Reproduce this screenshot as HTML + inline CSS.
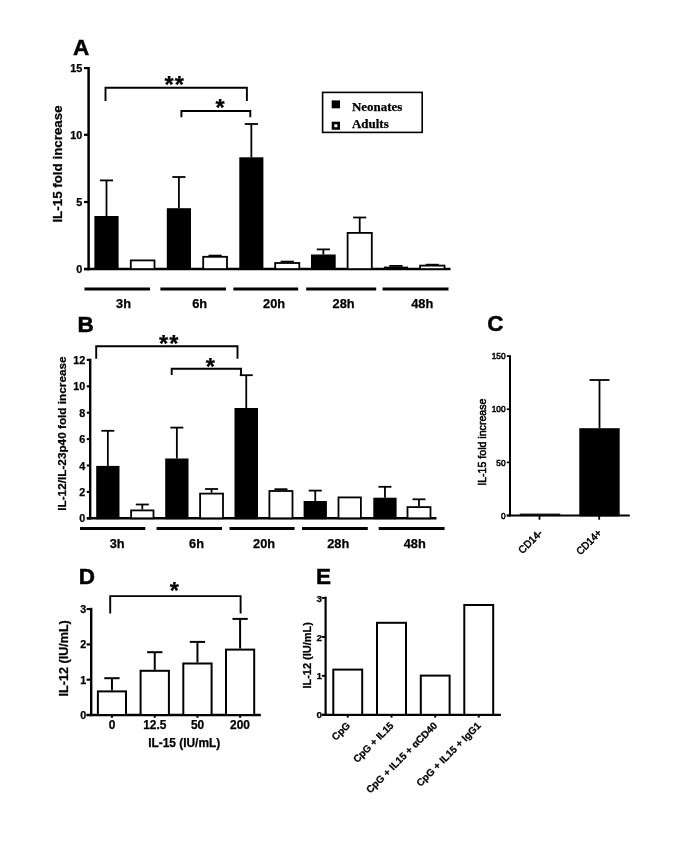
<!DOCTYPE html>
<html lang="en"><head><meta charset="utf-8"><title>Figure</title>
<style>
html,body{margin:0;padding:0;background:#fff;}
body{width:685px;height:848px;overflow:hidden;}
svg{display:block;}
text{fill:#000;}
</style></head><body>
<svg width="685" height="848" viewBox="0 0 685 848">
<rect x="0" y="0" width="685" height="848" fill="#fff"/>
<text x="73.00" y="55.00" font-family='"Liberation Sans", Arial, sans-serif' font-size="22.5" font-weight="bold" text-anchor="start" stroke="#000" stroke-width="0.5">A</text>
<line x1="88.60" y1="67.00" x2="88.60" y2="270.35" stroke="#000" stroke-width="2.5" />
<line x1="84.00" y1="269.10" x2="450.50" y2="269.10" stroke="#000" stroke-width="2.5" />
<line x1="84.00" y1="68.10" x2="88.60" y2="68.10" stroke="#000" stroke-width="2.2" />
<text x="82.40" y="72.10" font-family='"Liberation Sans", Arial, sans-serif' font-size="10.9" font-weight="bold" text-anchor="end"  stroke="#000" stroke-width="0.25">15</text>
<line x1="84.00" y1="134.80" x2="88.60" y2="134.80" stroke="#000" stroke-width="2.2" />
<text x="82.40" y="138.80" font-family='"Liberation Sans", Arial, sans-serif' font-size="10.9" font-weight="bold" text-anchor="end"  stroke="#000" stroke-width="0.25">10</text>
<line x1="84.00" y1="202.00" x2="88.60" y2="202.00" stroke="#000" stroke-width="2.2" />
<text x="82.40" y="206.00" font-family='"Liberation Sans", Arial, sans-serif' font-size="10.9" font-weight="bold" text-anchor="end"  stroke="#000" stroke-width="0.25">5</text>
<line x1="84.00" y1="269.10" x2="88.60" y2="269.10" stroke="#000" stroke-width="2.2" />
<text x="82.40" y="273.10" font-family='"Liberation Sans", Arial, sans-serif' font-size="10.9" font-weight="bold" text-anchor="end"  stroke="#000" stroke-width="0.25">0</text>
<text x="62.40" y="164.00" font-family='"Liberation Sans", Arial, sans-serif' font-size="13.35" font-weight="bold" text-anchor="middle" transform="rotate(-90 62.40 164.00)"  stroke="#000" stroke-width="0.25">IL-15 fold increase</text>
<line x1="106.50" y1="216.00" x2="106.50" y2="180.40" stroke="#000" stroke-width="1.8" />
<line x1="99.90" y1="180.40" x2="113.10" y2="180.40" stroke="#000" stroke-width="1.8" />
<rect x="95.30" y="216.90" width="22.40" height="52.20" fill="#000" stroke="#000" stroke-width="1.8"/>
<rect x="130.80" y="260.40" width="23.70" height="8.70" fill="#fff" stroke="#000" stroke-width="1.8"/>
<line x1="178.90" y1="208.20" x2="178.90" y2="177.00" stroke="#000" stroke-width="1.8" />
<line x1="172.30" y1="177.00" x2="185.50" y2="177.00" stroke="#000" stroke-width="1.8" />
<rect x="167.70" y="209.10" width="22.40" height="60.00" fill="#000" stroke="#000" stroke-width="1.8"/>
<line x1="215.10" y1="255.90" x2="215.10" y2="255.60" stroke="#000" stroke-width="1.8" />
<line x1="208.50" y1="255.60" x2="221.70" y2="255.60" stroke="#000" stroke-width="1.8" />
<rect x="203.20" y="256.80" width="23.80" height="12.30" fill="#fff" stroke="#000" stroke-width="1.8"/>
<line x1="251.35" y1="157.30" x2="251.35" y2="124.00" stroke="#000" stroke-width="1.8" />
<line x1="244.75" y1="124.00" x2="257.95" y2="124.00" stroke="#000" stroke-width="1.8" />
<rect x="240.20" y="158.20" width="22.30" height="110.90" fill="#000" stroke="#000" stroke-width="1.8"/>
<line x1="287.25" y1="262.10" x2="287.25" y2="261.60" stroke="#000" stroke-width="1.8" />
<line x1="280.65" y1="261.60" x2="293.85" y2="261.60" stroke="#000" stroke-width="1.8" />
<rect x="275.20" y="263.00" width="24.10" height="6.10" fill="#fff" stroke="#000" stroke-width="1.8"/>
<line x1="323.35" y1="254.50" x2="323.35" y2="249.40" stroke="#000" stroke-width="1.8" />
<line x1="316.75" y1="249.40" x2="329.95" y2="249.40" stroke="#000" stroke-width="1.8" />
<rect x="311.90" y="255.40" width="22.90" height="13.70" fill="#000" stroke="#000" stroke-width="1.8"/>
<line x1="359.70" y1="232.00" x2="359.70" y2="217.50" stroke="#000" stroke-width="1.8" />
<line x1="353.10" y1="217.50" x2="366.30" y2="217.50" stroke="#000" stroke-width="1.8" />
<rect x="347.60" y="232.90" width="24.20" height="36.20" fill="#fff" stroke="#000" stroke-width="1.8"/>
<line x1="395.95" y1="266.60" x2="395.95" y2="265.90" stroke="#000" stroke-width="1.8" />
<line x1="389.35" y1="265.90" x2="402.55" y2="265.90" stroke="#000" stroke-width="1.8" />
<rect x="384.80" y="267.50" width="22.30" height="1.60" fill="#000" stroke="#000" stroke-width="1.8"/>
<line x1="432.30" y1="264.70" x2="432.30" y2="264.70" stroke="#000" stroke-width="1.8" />
<line x1="425.70" y1="264.70" x2="438.90" y2="264.70" stroke="#000" stroke-width="1.8" />
<rect x="420.10" y="265.60" width="24.40" height="3.50" fill="#fff" stroke="#000" stroke-width="1.8"/>
<polyline points="105.50,100.90 105.50,87.70 246.90,87.70 246.90,100.90" fill="none" stroke="#000" stroke-width="1.9"/>
<polyline points="181.40,117.20 181.40,111.00 250.30,111.00 250.30,117.20" fill="none" stroke="#000" stroke-width="1.9"/>
<text x="174.80" y="93.30" font-family='"Liberation Sans", Arial, sans-serif' font-size="23.5" font-weight="bold" text-anchor="middle" letter-spacing="1.1" stroke="#000" stroke-width="0.25">**</text>
<text x="220.10" y="115.70" font-family='"Liberation Sans", Arial, sans-serif' font-size="23.5" font-weight="bold" text-anchor="middle"  stroke="#000" stroke-width="0.25">*</text>
<line x1="84.50" y1="288.90" x2="150.00" y2="288.90" stroke="#000" stroke-width="3.0" />
<line x1="160.40" y1="288.90" x2="226.00" y2="288.90" stroke="#000" stroke-width="3.0" />
<line x1="233.40" y1="288.90" x2="298.20" y2="288.90" stroke="#000" stroke-width="3.0" />
<line x1="306.20" y1="288.90" x2="376.20" y2="288.90" stroke="#000" stroke-width="3.0" />
<line x1="382.60" y1="288.90" x2="448.50" y2="288.90" stroke="#000" stroke-width="3.0" />
<text x="123.50" y="308.30" font-family='"Liberation Sans", Arial, sans-serif' font-size="12.8" font-weight="bold" text-anchor="middle"  stroke="#000" stroke-width="0.25">3h</text>
<text x="199.60" y="308.30" font-family='"Liberation Sans", Arial, sans-serif' font-size="12.8" font-weight="bold" text-anchor="middle"  stroke="#000" stroke-width="0.25">6h</text>
<text x="274.10" y="308.30" font-family='"Liberation Sans", Arial, sans-serif' font-size="12.8" font-weight="bold" text-anchor="middle"  stroke="#000" stroke-width="0.25">20h</text>
<text x="343.60" y="308.30" font-family='"Liberation Sans", Arial, sans-serif' font-size="12.8" font-weight="bold" text-anchor="middle"  stroke="#000" stroke-width="0.25">28h</text>
<text x="422.20" y="308.30" font-family='"Liberation Sans", Arial, sans-serif' font-size="12.8" font-weight="bold" text-anchor="middle"  stroke="#000" stroke-width="0.25">48h</text>
<rect x="322.6" y="92.4" width="99.6" height="40" fill="#fff" stroke="#000" stroke-width="1.6"/>
<rect x="331.7" y="100.4" width="8.3" height="7.9" fill="#000"/>
<rect x="333.0" y="123.0" width="5.7" height="5.5" fill="#fff" stroke="#000" stroke-width="2.6"/>
<text x="352.00" y="110.80" font-family='"Liberation Serif", "Times New Roman", serif' font-size="12.95" font-weight="bold" text-anchor="start"  stroke="#000" stroke-width="0.25">Neonates</text>
<text x="352.00" y="127.60" font-family='"Liberation Serif", "Times New Roman", serif' font-size="12.95" font-weight="bold" text-anchor="start"  stroke="#000" stroke-width="0.25">Adults</text>
<text x="77.60" y="332.00" font-family='"Liberation Sans", Arial, sans-serif' font-size="22.5" font-weight="bold" text-anchor="start" stroke="#000" stroke-width="0.5">B</text>
<line x1="90.20" y1="358.70" x2="90.20" y2="519.50" stroke="#000" stroke-width="2.4" />
<line x1="86.80" y1="518.30" x2="436.50" y2="518.30" stroke="#000" stroke-width="2.4" />
<line x1="86.80" y1="518.30" x2="90.20" y2="518.30" stroke="#000" stroke-width="2.1" />
<text x="85.30" y="522.30" font-family='"Liberation Sans", Arial, sans-serif' font-size="10.8" font-weight="bold" text-anchor="end"  stroke="#000" stroke-width="0.25">0</text>
<line x1="86.80" y1="491.90" x2="90.20" y2="491.90" stroke="#000" stroke-width="2.1" />
<text x="85.30" y="495.90" font-family='"Liberation Sans", Arial, sans-serif' font-size="10.8" font-weight="bold" text-anchor="end"  stroke="#000" stroke-width="0.25">2</text>
<line x1="86.80" y1="465.50" x2="90.20" y2="465.50" stroke="#000" stroke-width="2.1" />
<text x="85.30" y="469.50" font-family='"Liberation Sans", Arial, sans-serif' font-size="10.8" font-weight="bold" text-anchor="end"  stroke="#000" stroke-width="0.25">4</text>
<line x1="86.80" y1="439.10" x2="90.20" y2="439.10" stroke="#000" stroke-width="2.1" />
<text x="85.30" y="443.10" font-family='"Liberation Sans", Arial, sans-serif' font-size="10.8" font-weight="bold" text-anchor="end"  stroke="#000" stroke-width="0.25">6</text>
<line x1="86.80" y1="412.70" x2="90.20" y2="412.70" stroke="#000" stroke-width="2.1" />
<text x="85.30" y="416.70" font-family='"Liberation Sans", Arial, sans-serif' font-size="10.8" font-weight="bold" text-anchor="end"  stroke="#000" stroke-width="0.25">8</text>
<line x1="86.80" y1="386.30" x2="90.20" y2="386.30" stroke="#000" stroke-width="2.1" />
<text x="85.30" y="390.30" font-family='"Liberation Sans", Arial, sans-serif' font-size="10.8" font-weight="bold" text-anchor="end"  stroke="#000" stroke-width="0.25">10</text>
<line x1="86.80" y1="359.90" x2="90.20" y2="359.90" stroke="#000" stroke-width="2.1" />
<text x="85.30" y="363.90" font-family='"Liberation Sans", Arial, sans-serif' font-size="10.8" font-weight="bold" text-anchor="end"  stroke="#000" stroke-width="0.25">12</text>
<text x="66.10" y="433.60" font-family='"Liberation Sans", Arial, sans-serif' font-size="11.78" font-weight="bold" text-anchor="middle" transform="rotate(-90 66.10 433.60)"  stroke="#000" stroke-width="0.25">IL-12/IL-23p40 fold increase</text>
<line x1="107.85" y1="465.90" x2="107.85" y2="430.80" stroke="#000" stroke-width="1.8" />
<line x1="101.35" y1="430.80" x2="114.35" y2="430.80" stroke="#000" stroke-width="1.8" />
<rect x="97.10" y="466.80" width="21.50" height="51.50" fill="#000" stroke="#000" stroke-width="1.8"/>
<line x1="142.30" y1="509.50" x2="142.30" y2="504.50" stroke="#000" stroke-width="1.8" />
<line x1="135.80" y1="504.50" x2="148.80" y2="504.50" stroke="#000" stroke-width="1.8" />
<rect x="131.10" y="510.40" width="22.40" height="7.90" fill="#fff" stroke="#000" stroke-width="1.8"/>
<line x1="176.85" y1="458.50" x2="176.85" y2="427.60" stroke="#000" stroke-width="1.8" />
<line x1="170.35" y1="427.60" x2="183.35" y2="427.60" stroke="#000" stroke-width="1.8" />
<rect x="166.10" y="459.40" width="21.50" height="58.90" fill="#000" stroke="#000" stroke-width="1.8"/>
<line x1="211.55" y1="492.70" x2="211.55" y2="489.00" stroke="#000" stroke-width="1.8" />
<line x1="205.05" y1="489.00" x2="218.05" y2="489.00" stroke="#000" stroke-width="1.8" />
<rect x="200.10" y="493.60" width="22.90" height="24.70" fill="#fff" stroke="#000" stroke-width="1.8"/>
<line x1="246.25" y1="408.00" x2="246.25" y2="375.20" stroke="#000" stroke-width="1.8" />
<line x1="239.75" y1="375.20" x2="252.75" y2="375.20" stroke="#000" stroke-width="1.8" />
<rect x="235.40" y="408.90" width="21.70" height="109.40" fill="#000" stroke="#000" stroke-width="1.8"/>
<line x1="280.95" y1="490.10" x2="280.95" y2="489.20" stroke="#000" stroke-width="1.8" />
<line x1="274.45" y1="489.20" x2="287.45" y2="489.20" stroke="#000" stroke-width="1.8" />
<rect x="269.40" y="491.00" width="23.10" height="27.30" fill="#fff" stroke="#000" stroke-width="1.8"/>
<line x1="315.25" y1="501.00" x2="315.25" y2="490.60" stroke="#000" stroke-width="1.8" />
<line x1="308.75" y1="490.60" x2="321.75" y2="490.60" stroke="#000" stroke-width="1.8" />
<rect x="304.50" y="501.90" width="21.50" height="16.40" fill="#000" stroke="#000" stroke-width="1.8"/>
<rect x="338.50" y="497.40" width="22.40" height="20.90" fill="#fff" stroke="#000" stroke-width="1.8"/>
<line x1="384.95" y1="497.70" x2="384.95" y2="486.80" stroke="#000" stroke-width="1.8" />
<line x1="378.45" y1="486.80" x2="391.45" y2="486.80" stroke="#000" stroke-width="1.8" />
<rect x="374.20" y="498.60" width="21.50" height="19.70" fill="#000" stroke="#000" stroke-width="1.8"/>
<line x1="419.00" y1="506.20" x2="419.00" y2="499.30" stroke="#000" stroke-width="1.8" />
<line x1="412.50" y1="499.30" x2="425.50" y2="499.30" stroke="#000" stroke-width="1.8" />
<rect x="407.50" y="507.10" width="23.00" height="11.20" fill="#fff" stroke="#000" stroke-width="1.8"/>
<polyline points="96.20,358.80 96.20,346.30 237.50,346.30 237.50,358.80" fill="none" stroke="#000" stroke-width="1.9"/>
<polyline points="171.70,374.90 171.70,368.80 241.00,368.80 241.00,374.90" fill="none" stroke="#000" stroke-width="1.9"/>
<text x="169.30" y="351.80" font-family='"Liberation Sans", Arial, sans-serif' font-size="23.5" font-weight="bold" text-anchor="middle" letter-spacing="1.1" stroke="#000" stroke-width="0.25">**</text>
<text x="210.30" y="374.70" font-family='"Liberation Sans", Arial, sans-serif' font-size="23.5" font-weight="bold" text-anchor="middle"  stroke="#000" stroke-width="0.25">*</text>
<line x1="80.00" y1="528.50" x2="145.30" y2="528.50" stroke="#000" stroke-width="3.0" />
<line x1="156.60" y1="528.50" x2="222.00" y2="528.50" stroke="#000" stroke-width="3.0" />
<line x1="229.50" y1="528.50" x2="294.60" y2="528.50" stroke="#000" stroke-width="3.0" />
<line x1="302.00" y1="528.50" x2="367.80" y2="528.50" stroke="#000" stroke-width="3.0" />
<line x1="378.70" y1="528.50" x2="444.60" y2="528.50" stroke="#000" stroke-width="3.0" />
<text x="117.20" y="548.00" font-family='"Liberation Sans", Arial, sans-serif' font-size="12.8" font-weight="bold" text-anchor="middle"  stroke="#000" stroke-width="0.25">3h</text>
<text x="196.50" y="548.00" font-family='"Liberation Sans", Arial, sans-serif' font-size="12.8" font-weight="bold" text-anchor="middle"  stroke="#000" stroke-width="0.25">6h</text>
<text x="264.10" y="548.00" font-family='"Liberation Sans", Arial, sans-serif' font-size="12.8" font-weight="bold" text-anchor="middle"  stroke="#000" stroke-width="0.25">20h</text>
<text x="338.20" y="548.00" font-family='"Liberation Sans", Arial, sans-serif' font-size="12.8" font-weight="bold" text-anchor="middle"  stroke="#000" stroke-width="0.25">28h</text>
<text x="414.70" y="548.00" font-family='"Liberation Sans", Arial, sans-serif' font-size="12.8" font-weight="bold" text-anchor="middle"  stroke="#000" stroke-width="0.25">48h</text>
<text x="487.30" y="331.20" font-family='"Liberation Sans", Arial, sans-serif' font-size="22.5" font-weight="bold" text-anchor="start" stroke="#000" stroke-width="0.5">C</text>
<line x1="510.00" y1="355.20" x2="510.00" y2="516.50" stroke="#000" stroke-width="2.0" />
<line x1="506.80" y1="515.50" x2="629.80" y2="515.50" stroke="#000" stroke-width="2.0" />
<line x1="506.80" y1="515.50" x2="510.00" y2="515.50" stroke="#000" stroke-width="1.7" />
<text x="505.60" y="518.70" font-family='"Liberation Sans", Arial, sans-serif' font-size="9.6" font-weight="normal" text-anchor="end" stroke="#000" stroke-width="0.55" textLength="4.62" lengthAdjust="spacingAndGlyphs">0</text>
<line x1="506.80" y1="462.37" x2="510.00" y2="462.37" stroke="#000" stroke-width="1.7" />
<text x="505.60" y="465.56" font-family='"Liberation Sans", Arial, sans-serif' font-size="9.6" font-weight="normal" text-anchor="end" stroke="#000" stroke-width="0.55" textLength="9.24" lengthAdjust="spacingAndGlyphs">50</text>
<line x1="506.80" y1="409.23" x2="510.00" y2="409.23" stroke="#000" stroke-width="1.7" />
<text x="505.60" y="412.43" font-family='"Liberation Sans", Arial, sans-serif' font-size="9.6" font-weight="normal" text-anchor="end" stroke="#000" stroke-width="0.55" textLength="13.86" lengthAdjust="spacingAndGlyphs">100</text>
<line x1="506.80" y1="356.10" x2="510.00" y2="356.10" stroke="#000" stroke-width="1.7" />
<text x="505.60" y="359.30" font-family='"Liberation Sans", Arial, sans-serif' font-size="9.6" font-weight="normal" text-anchor="end" stroke="#000" stroke-width="0.55" textLength="13.86" lengthAdjust="spacingAndGlyphs">150</text>
<text x="486.00" y="442.20" font-family='"Liberation Sans", Arial, sans-serif' font-size="10.6" font-weight="normal" text-anchor="middle" transform="rotate(-90 486.00 442.20)" stroke="#000" stroke-width="0.55">IL-15 fold increase</text>
<rect x="520.40" y="514.20" width="39.20" height="1.30" fill="#fff" stroke="#000" stroke-width="1.2"/>
<line x1="599.50" y1="428.20" x2="599.50" y2="380.00" stroke="#000" stroke-width="1.8" />
<line x1="589.50" y1="380.00" x2="609.50" y2="380.00" stroke="#000" stroke-width="1.8" />
<rect x="580.20" y="429.10" width="38.60" height="86.40" fill="#000" stroke="#000" stroke-width="1.8"/>
<line x1="539.50" y1="515.50" x2="539.50" y2="519.70" stroke="#000" stroke-width="1.8" />
<line x1="599.20" y1="515.50" x2="599.20" y2="519.70" stroke="#000" stroke-width="1.8" />
<text x="543.00" y="533.80" font-family='"Liberation Sans", Arial, sans-serif' font-size="10.4" font-weight="normal" text-anchor="end" transform="rotate(-45 543.00 533.80)" stroke="#000" stroke-width="0.55" textLength="28.8" lengthAdjust="spacingAndGlyphs">CD14-</text>
<text x="602.40" y="533.60" font-family='"Liberation Sans", Arial, sans-serif' font-size="10.4" font-weight="normal" text-anchor="end" transform="rotate(-45 602.40 533.60)" stroke="#000" stroke-width="0.55" textLength="31" lengthAdjust="spacingAndGlyphs">CD14+</text>
<text x="78.80" y="584.00" font-family='"Liberation Sans", Arial, sans-serif' font-size="22.5" font-weight="bold" text-anchor="start" stroke="#000" stroke-width="0.5">D</text>
<line x1="91.20" y1="607.80" x2="91.20" y2="716.20" stroke="#000" stroke-width="2.4" />
<line x1="86.60" y1="715.00" x2="260.80" y2="715.00" stroke="#000" stroke-width="2.4" />
<line x1="86.60" y1="715.00" x2="91.20" y2="715.00" stroke="#000" stroke-width="2.1" />
<text x="86.30" y="718.90" font-family='"Liberation Sans", Arial, sans-serif' font-size="10.8" font-weight="bold" text-anchor="end"  stroke="#000" stroke-width="0.25">0</text>
<line x1="86.60" y1="679.70" x2="91.20" y2="679.70" stroke="#000" stroke-width="2.1" />
<text x="86.30" y="683.60" font-family='"Liberation Sans", Arial, sans-serif' font-size="10.8" font-weight="bold" text-anchor="end"  stroke="#000" stroke-width="0.25">1</text>
<line x1="86.60" y1="644.40" x2="91.20" y2="644.40" stroke="#000" stroke-width="2.1" />
<text x="86.30" y="648.30" font-family='"Liberation Sans", Arial, sans-serif' font-size="10.8" font-weight="bold" text-anchor="end"  stroke="#000" stroke-width="0.25">2</text>
<line x1="86.60" y1="609.10" x2="91.20" y2="609.10" stroke="#000" stroke-width="2.1" />
<text x="86.30" y="613.00" font-family='"Liberation Sans", Arial, sans-serif' font-size="10.8" font-weight="bold" text-anchor="end"  stroke="#000" stroke-width="0.25">3</text>
<text x="67.60" y="658.30" font-family='"Liberation Sans", Arial, sans-serif' font-size="12.6" font-weight="bold" text-anchor="middle" transform="rotate(-90 67.60 658.30)"  stroke="#000" stroke-width="0.25">IL-12 (IU/mL)</text>
<line x1="111.95" y1="715.00" x2="111.95" y2="717.80" stroke="#000" stroke-width="2.0" />
<line x1="111.95" y1="690.40" x2="111.95" y2="678.20" stroke="#000" stroke-width="2.0" />
<line x1="104.30" y1="678.20" x2="119.60" y2="678.20" stroke="#000" stroke-width="2.0" />
<rect x="97.90" y="691.40" width="28.10" height="23.60" fill="#fff" stroke="#000" stroke-width="2.0"/>
<line x1="154.75" y1="715.00" x2="154.75" y2="717.80" stroke="#000" stroke-width="2.0" />
<line x1="154.75" y1="669.80" x2="154.75" y2="652.20" stroke="#000" stroke-width="2.0" />
<line x1="147.10" y1="652.20" x2="162.40" y2="652.20" stroke="#000" stroke-width="2.0" />
<rect x="140.60" y="670.80" width="28.30" height="44.20" fill="#fff" stroke="#000" stroke-width="2.0"/>
<line x1="197.45" y1="715.00" x2="197.45" y2="717.80" stroke="#000" stroke-width="2.0" />
<line x1="197.45" y1="662.50" x2="197.45" y2="641.90" stroke="#000" stroke-width="2.0" />
<line x1="189.80" y1="641.90" x2="205.10" y2="641.90" stroke="#000" stroke-width="2.0" />
<rect x="183.30" y="663.50" width="28.30" height="51.50" fill="#fff" stroke="#000" stroke-width="2.0"/>
<line x1="240.10" y1="715.00" x2="240.10" y2="717.80" stroke="#000" stroke-width="2.0" />
<line x1="240.10" y1="648.60" x2="240.10" y2="618.90" stroke="#000" stroke-width="2.0" />
<line x1="232.45" y1="618.90" x2="247.75" y2="618.90" stroke="#000" stroke-width="2.0" />
<rect x="226.00" y="649.60" width="28.20" height="65.40" fill="#fff" stroke="#000" stroke-width="2.0"/>
<polyline points="110.20,613.60 110.20,596.10 240.60,596.10 240.60,613.60" fill="none" stroke="#000" stroke-width="1.9"/>
<text x="174.30" y="599.30" font-family='"Liberation Sans", Arial, sans-serif' font-size="23.5" font-weight="bold" text-anchor="middle"  stroke="#000" stroke-width="0.25">*</text>
<text x="112.00" y="729.30" font-family='"Liberation Sans", Arial, sans-serif' font-size="11.9" font-weight="bold" text-anchor="middle"  stroke="#000" stroke-width="0.25">0</text>
<text x="154.80" y="729.30" font-family='"Liberation Sans", Arial, sans-serif' font-size="11.9" font-weight="bold" text-anchor="middle"  stroke="#000" stroke-width="0.25">12.5</text>
<text x="197.50" y="729.30" font-family='"Liberation Sans", Arial, sans-serif' font-size="11.9" font-weight="bold" text-anchor="middle"  stroke="#000" stroke-width="0.25">50</text>
<text x="240.00" y="729.30" font-family='"Liberation Sans", Arial, sans-serif' font-size="11.9" font-weight="bold" text-anchor="middle"  stroke="#000" stroke-width="0.25">200</text>
<text x="184.20" y="746.90" font-family='"Liberation Sans", Arial, sans-serif' font-size="11.9" font-weight="bold" text-anchor="middle"  stroke="#000" stroke-width="0.25">IL-15 (IU/mL)</text>
<text x="316.00" y="583.70" font-family='"Liberation Sans", Arial, sans-serif' font-size="22.5" font-weight="bold" text-anchor="start" stroke="#000" stroke-width="0.5">E</text>
<line x1="325.60" y1="596.70" x2="325.60" y2="715.90" stroke="#000" stroke-width="2.2" />
<line x1="321.80" y1="714.80" x2="500.90" y2="714.80" stroke="#000" stroke-width="2.2" />
<line x1="321.80" y1="714.80" x2="325.60" y2="714.80" stroke="#000" stroke-width="1.9000000000000001" />
<text x="321.90" y="718.40" font-family='"Liberation Sans", Arial, sans-serif' font-size="9.9" font-weight="bold" text-anchor="end"  stroke="#000" stroke-width="0.25">0</text>
<line x1="321.80" y1="675.85" x2="325.60" y2="675.85" stroke="#000" stroke-width="1.9000000000000001" />
<text x="321.90" y="679.45" font-family='"Liberation Sans", Arial, sans-serif' font-size="9.9" font-weight="bold" text-anchor="end"  stroke="#000" stroke-width="0.25">1</text>
<line x1="321.80" y1="636.90" x2="325.60" y2="636.90" stroke="#000" stroke-width="1.9000000000000001" />
<text x="321.90" y="640.50" font-family='"Liberation Sans", Arial, sans-serif' font-size="9.9" font-weight="bold" text-anchor="end"  stroke="#000" stroke-width="0.25">2</text>
<line x1="321.80" y1="597.95" x2="325.60" y2="597.95" stroke="#000" stroke-width="1.9000000000000001" />
<text x="321.90" y="601.55" font-family='"Liberation Sans", Arial, sans-serif' font-size="9.9" font-weight="bold" text-anchor="end"  stroke="#000" stroke-width="0.25">3</text>
<text x="311.00" y="655.30" font-family='"Liberation Sans", Arial, sans-serif' font-size="11.0" font-weight="bold" text-anchor="middle" transform="rotate(-90 311.00 655.30)"  stroke="#000" stroke-width="0.25">IL-12 (IU/mL)</text>
<line x1="347.75" y1="714.80" x2="347.75" y2="717.60" stroke="#000" stroke-width="2.0" />
<rect x="333.30" y="669.60" width="28.90" height="45.20" fill="#fff" stroke="#000" stroke-width="2.0"/>
<line x1="391.50" y1="714.80" x2="391.50" y2="717.60" stroke="#000" stroke-width="2.0" />
<rect x="377.00" y="622.80" width="29.00" height="92.00" fill="#fff" stroke="#000" stroke-width="2.0"/>
<line x1="435.20" y1="714.80" x2="435.20" y2="717.60" stroke="#000" stroke-width="2.0" />
<rect x="420.80" y="675.60" width="28.80" height="39.20" fill="#fff" stroke="#000" stroke-width="2.0"/>
<line x1="478.75" y1="714.80" x2="478.75" y2="717.60" stroke="#000" stroke-width="2.0" />
<rect x="464.30" y="605.00" width="28.90" height="109.80" fill="#fff" stroke="#000" stroke-width="2.0"/>
<text x="350.80" y="726.20" font-family='"Liberation Sans", Arial, sans-serif' font-size="10" font-weight="bold" text-anchor="end" transform="rotate(-45 350.80 726.20)"  stroke="#000" stroke-width="0.25">CpG</text>
<text x="394.30" y="726.20" font-family='"Liberation Sans", Arial, sans-serif' font-size="10" font-weight="bold" text-anchor="end" transform="rotate(-45 394.30 726.20)"  stroke="#000" stroke-width="0.25">CpG + IL15</text>
<text x="437.90" y="726.20" font-family='"Liberation Sans", Arial, sans-serif' font-size="10" font-weight="bold" text-anchor="end" transform="rotate(-45 437.90 726.20)"  stroke="#000" stroke-width="0.25">CpG + IL15 + αCD40</text>
<text x="481.40" y="726.20" font-family='"Liberation Sans", Arial, sans-serif' font-size="10" font-weight="bold" text-anchor="end" transform="rotate(-45 481.40 726.20)"  stroke="#000" stroke-width="0.25">CpG + IL15 + IgG1</text>
</svg>
</body></html>
